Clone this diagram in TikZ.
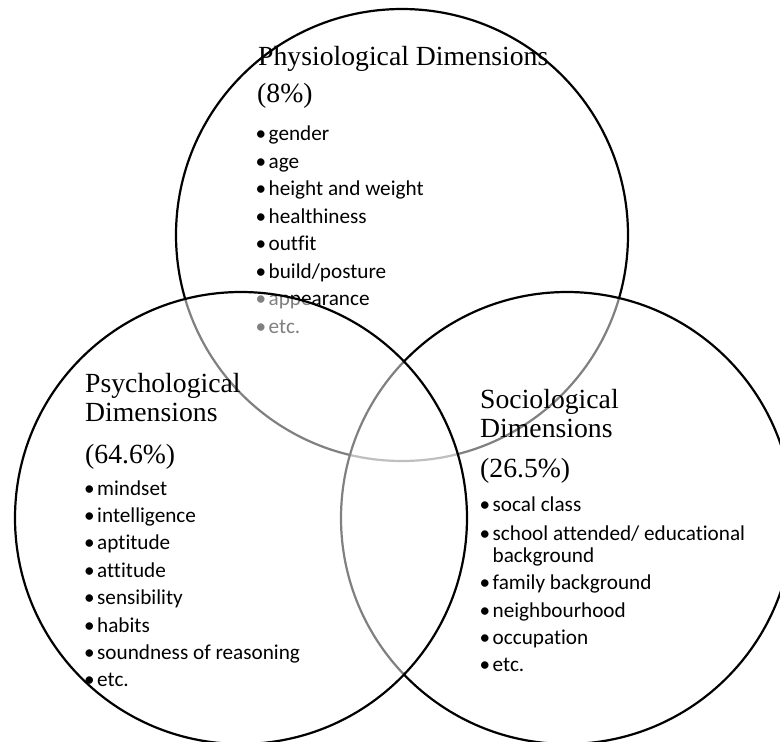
\documentclass[tikz,border=0pt]{standalone}
\usepackage{fontspec}
\setmainfont{Liberation Serif}
\newfontfamily\bodyfont[Ligatures={NoCommon}]{Carlito}
\newcommand{\bul}{\llap{•\hspace{2.6pt}}}
\begin{document}
\begin{tikzpicture}[x=1pt,y=-1pt,
  venn/.style={circle, draw=black, line width=2.2pt, fill=white, fill opacity=0.5, draw opacity=1, minimum size=452pt, inner sep=0pt},
  head/.style={anchor=base west, inner sep=0pt, font=\fontsize{27.7}{30}\selectfont},
  item/.style={anchor=base west, inner sep=0pt, font=\bodyfont\fontsize{21.2}{23}\selectfont},
]
\useasboundingbox (0,0) rectangle (780,742);
\fill[white] (0,0) rectangle (780,742);
\begin{scope}
\clip (0,0) rectangle (780,742);
% top circle
\node[venn] (phys) at (402,235) {};
\node[head] (ph1) at (258,65) {Physiological Dimensions};
\node[head] (ph2) at (257,102) {(8\%)};
\node[item] (p1) at (268.5,140.5) {\bul gender};
\node[item] (p2) at (268.5,168) {\bul age};
\node[item] (p3) at (268.5,195.5) {\bul height and weight};
\node[item] (p4) at (268.5,223) {\bul healthiness};
\node[item] (p5) at (268.5,250.5) {\bul outfit};
\node[item] (p6) at (268.5,278) {\bul build/posture};
\node[item] (p7) at (268.5,305.5) {\bul appearance};
\node[item] (p8) at (268.5,333) {\bul etc.};
% right circle
\node[venn] (soc) at (567,518) {};
\node[head] (so1) at (480,408) {Sociological};
\node[head] (so2) at (480,437) {Dimensions};
\node[head] (so3) at (480,477) {(26.5\%)};
\node[item] (s1) at (492.5,511) {\bul socal class};
\node[item] (s2) at (492.5,540) {\bul school attended/ educational};
\node[item] (s2b) at (492.5,562.5) {background};
\node[item] (s3) at (492.5,589.5) {\bul family background};
\node[item] (s4) at (492.5,617) {\bul neighbourhood};
\node[item] (s5) at (492.5,644) {\bul occupation};
\node[item] (s6) at (492.5,671) {\bul etc.};
% left circle
\node[venn] (psy) at (241,518) {};
\node[head] (ps1) at (85,392) {Psychological};
\node[head] (ps2) at (85,421) {Dimensions};
\node[head] (ps3) at (85,463) {(64.6\%)};
\node[item] (q1) at (97,495) {\bul mindset};
\node[item] (q2) at (97,522.4) {\bul intelligence};
\node[item] (q3) at (97,549.8) {\bul aptitude};
\node[item] (q4) at (97,577.2) {\bul attitude};
\node[item] (q5) at (97,604.6) {\bul sensibility};
\node[item] (q6) at (97,632) {\bul habits};
\node[item] (q7) at (97,659.4) {\bul soundness of reasoning};
\node[item] (q8) at (97,686.8) {\bul etc.};
\end{scope}
\end{tikzpicture}
\end{document}
